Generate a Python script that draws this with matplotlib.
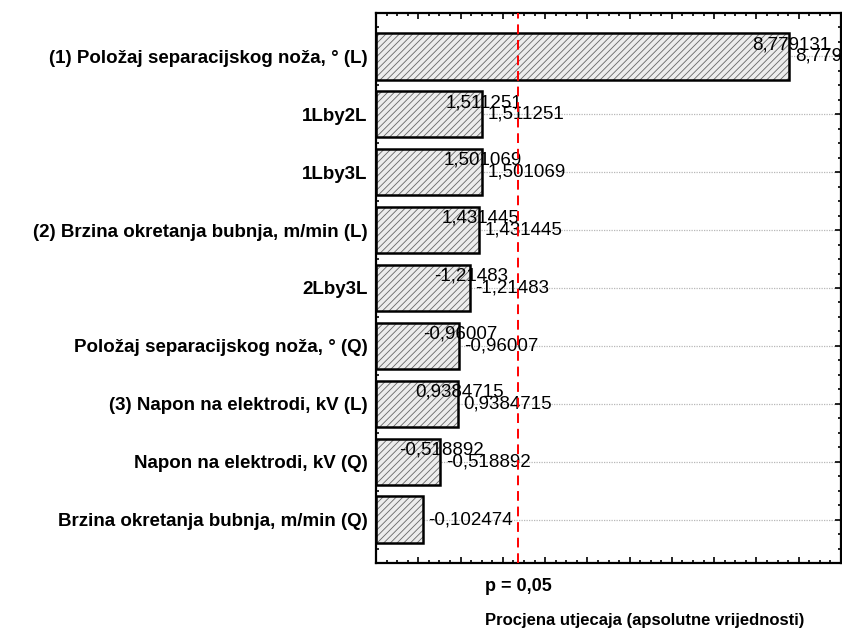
"""
Pareto chart of standardized effects (Statistica style).
"""
import numpy as np
import matplotlib
matplotlib.use("Agg")
import matplotlib.pyplot as plt
from matplotlib.ticker import MultipleLocator, NullFormatter

plt.rcParams['font.family'] = ['Liberation Sans', 'DejaVu Sans']
plt.rcParams['hatch.linewidth'] = 0.6

# effect names, top to bottom
terms = [
    "(1) Položaj separacijskog noža, ° (L)",
    "1Lby2L",
    "1Lby3L",
    "(2) Brzina okretanja bubnja, m/min (L)",
    "2Lby3L",
    "Položaj separacijskog noža, ° (Q)",
    "(3) Napon na elektrodi, kV (L)",
    "Napon na elektrodi, kV (Q)",
    "Brzina okretanja bubnja, m/min (Q)",
]
effects = [8.779131, 1.511251, 1.501069, 1.431445, -1.21483,
           -0.96007, 0.9384715, -0.518892, -0.102474]
t_crit = 2.364624
x_min, x_max = -1, 10


def fmt(v):
    return str(v).replace('.', ',')


fig = plt.figure(figsize=(8.42, 6.29), dpi=100)
ax = fig.add_axes([376 / 842, 66 / 629, 465 / 842, 550 / 629])

y = np.arange(len(terms))
size = np.abs(effects)

# hatched fill, then a black outline on top
ax.barh(y, size - x_min, left=x_min, height=0.8, color='#ececec',
        edgecolor='#666666', hatch='/////', linewidth=0, zorder=2)
ax.barh(y, size - x_min, left=x_min, height=0.8, fill=False,
        edgecolor='black', linewidth=1.8, zorder=3)

ax.axvline(t_crit, color='#ff0000', linestyle=(0, (5, 3)), linewidth=1.4, zorder=6)

for i, (v, s) in enumerate(zip(effects, size)):
    if i < len(effects) - 1:
        ax.annotate(fmt(v), (s, i), xytext=(1, 8.5), textcoords='offset points',
                    ha='center', va='center', fontsize=13.5, zorder=4)
    ax.annotate(fmt(v), (s, i), xytext=(4, 0), textcoords='offset points',
                ha='left', va='center', fontsize=13.5, zorder=4)

ax.set_xlim(x_min, x_max)
ax.set_ylim(len(terms) - 0.25, -0.75)
ax.set_yticks(y)
ax.set_yticklabels(terms, fontsize=13.5, fontweight='bold')
ax.xaxis.set_major_locator(MultipleLocator(1))
ax.xaxis.set_minor_locator(MultipleLocator(0.25))
ax.yaxis.set_minor_locator(MultipleLocator(0.25))
ax.xaxis.set_major_formatter(NullFormatter())
ax.tick_params(which='both', direction='in', top=True, right=True, width=1.2)
ax.tick_params(which='major', length=4, pad=6)
ax.tick_params(which='minor', length=2.5)

ax.grid(axis='y', which='major', color='#b8b8b8', linestyle=(0, (1, 1)), linewidth=0.9, zorder=1)
ax.set_axisbelow(True)
for sp in ax.spines.values():
    sp.set_linewidth(1.6)

ax.text(t_crit, -0.042, "p = 0,05", transform=ax.get_xaxis_transform(),
        ha='center', va='center', fontsize=13, fontweight='bold')
fig.text(645 / 842, 1 - 620 / 629, "Procjena utjecaja (apsolutne vrijednosti)",
         ha='center', va='center', fontsize=12, fontweight='bold')

fig.savefig("out.png", dpi=100)
